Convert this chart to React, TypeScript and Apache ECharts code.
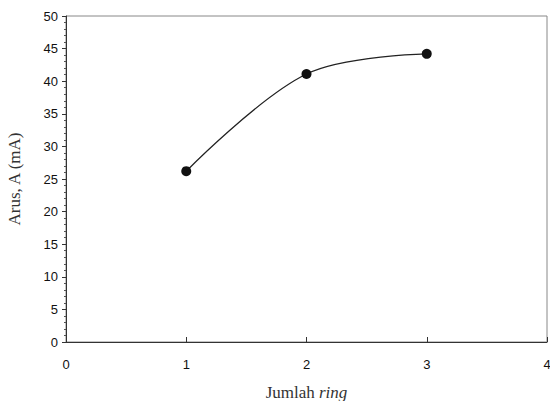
import React, { useEffect, useRef } from "react";
import * as echarts from "echarts";

const xValues = [1, 2, 3];
const arusValues = [26.2, 41.1, 44.2];
const yMin = 0;
const yMax = 50;
const yInterval = 5;
const xMin = 0;
const xMax = 4;

export default function App() {
  const ref = useRef<HTMLDivElement>(null);
  useEffect(() => {
    if (!ref.current) return;
    const chart = echarts.init(ref.current, null, { renderer: "svg" });
    const data = xValues.map((x, i) => [x, arusValues[i]]);
    chart.setOption({
      animation: false,
      backgroundColor: "#fff",
      grid: {
        left: 66,
        right: 3,
        top: 16,
        bottom: 59,
        containLabel: false,
        outerBoundsMode: "none",
        show: true,
        borderColor: "#888",
        borderWidth: 1,
      },
      xAxis: {
        type: "value",
        min: xMin,
        max: xMax,
        interval: 1,
        name: "Jumlah {i|ring}",
        nameLocation: "middle",
        nameGap: 42,
        nameTextStyle: {
          fontFamily: "Liberation Serif, serif",
          fontSize: 17,
          color: "#333",
          rich: {
            i: { fontFamily: "Liberation Serif, serif", fontSize: 17, fontStyle: "italic", color: "#333" },
          },
        },
        axisLine: { show: true, lineStyle: { color: "#333", width: 1 } },
        axisTick: { show: true, inside: true, length: 5, lineStyle: { color: "#333" } },
        axisLabel: {
          fontFamily: "Liberation Sans, Arial, sans-serif",
          fontSize: 13,
          color: "#111",
          margin: 16,
        },
        splitLine: { show: false },
      },
      yAxis: {
        type: "value",
        min: yMin,
        max: yMax,
        interval: yInterval,
        name: "Arus, A (mA)",
        nameLocation: "middle",
        nameGap: 43,
        nameTextStyle: {
          fontFamily: "Liberation Serif, serif",
          fontSize: 17,
          color: "#333",
        },
        axisLine: { show: true, lineStyle: { color: "#333", width: 1 } },
        axisTick: { show: true, inside: false, length: 4, lineStyle: { color: "#333" } },
        minorTick: { show: true, splitNumber: 5, length: 2, lineStyle: { color: "#555" } },
        axisLabel: {
          fontFamily: "Liberation Sans, Arial, sans-serif",
          fontSize: 13,
          color: "#111",
          margin: 8,
        },
        splitLine: { show: false },
      },
      series: [
        {
          type: "line",
          data,
          smooth: 0.35,
          symbol: "circle",
          symbolSize: 10,
          lineStyle: { color: "#222", width: 1.3 },
          itemStyle: { color: "#111" },
        },
      ],
    });
    return () => chart.dispose();
  }, []);
  return <div ref={ref} style={{ width: 550, height: 401, position: "absolute", left: 0, top: 0 }} />;
}
